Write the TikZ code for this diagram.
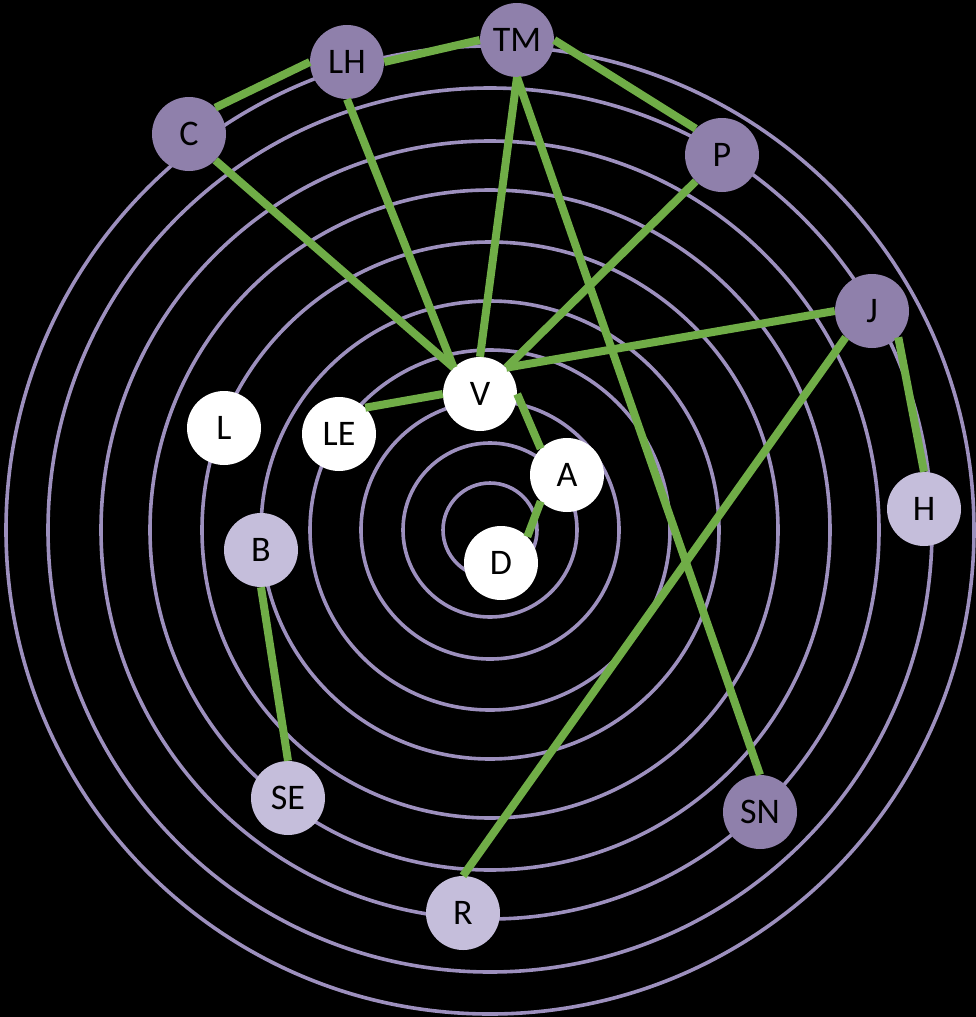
\documentclass[tikz,border=0pt]{standalone}
\usepackage{fontspec}
\setmainfont{Carlito}
\definecolor{ringc}{RGB}{157,144,190}
\definecolor{darkp}{RGB}{143,128,171}
\definecolor{lightp}{RGB}{197,190,219}
\definecolor{linkg}{RGB}{112,173,71}
\tikzset{
  ring/.style={draw=ringc, line width=3.6pt},
  person/.style={circle, minimum size=74pt, inner sep=0pt, font=\fontsize{36}{42}\selectfont, text=black},
  darknode/.style={person, fill=darkp},
  lightnode/.style={person, fill=lightp},
  whitenode/.style={person, fill=white},
  link/.style={draw=linkg, line width=8pt}
}
\begin{document}
\begin{tikzpicture}[x=1pt, y=-1pt]
\fill[black] (0,0) rectangle (976,1017);
\useasboundingbox (0,0) rectangle (976,1017);
\coordinate (O) at (490,530);
\foreach \r in {47,87,129,180,229,288,340,389,442,484}
  \draw[ring] (O) circle[radius=\r];
\node[darknode] (TM) at (517,40) {TM};
\node[darknode] (LH) at (347,62) {LH};
\node[darknode] (C) at (189,134) {C};
\node[darknode] (P) at (722,155) {P};
\node[darknode] (J) at (872,311) {J};
\node[lightnode] (H) at (924,509) {H};
\node[whitenode] (V) at (480,394) {V};
\node[whitenode] (A) at (567,475) {A};
\node[whitenode] (D) at (501,563) {D};
\node[whitenode] (L) at (224,428) {L};
\node[whitenode] (LE) at (339,434) {LE};
\node[lightnode] (B) at (261,550) {B};
\node[lightnode] (SE) at (288,798) {SE};
\node[darknode] (SN) at (760,812) {SN};
\node[lightnode] (R) at (463,913) {R};
\draw[link] (C.north east) -- (LH.west);
\draw[link] (LH.east) -- (TM.west);
\draw[link] (TM.east) -- (P.north west);
\draw[link] (C.south east) -- (V.north west);
\draw[link] (LH.south) -- (V.north west);
\draw[link] (TM.south) -- (V.north);
\draw[link] (TM.south) -- (SN.north);
\draw[link] (P.south west) -- (V.north east);
\draw[link] (J.west) -- (V.north east);
\draw[link] (J.south east) -- (H.north);
\draw[link] (J.south west) -- (R.north);
\draw[link] (V.west) -- (LE.north east);
\draw[link] (V.east) -- (A.north west);
\draw[link] (A.south west) -- (D.north east);
\draw[link] (B.south) -- (SE.north);
\end{tikzpicture}
\end{document}
